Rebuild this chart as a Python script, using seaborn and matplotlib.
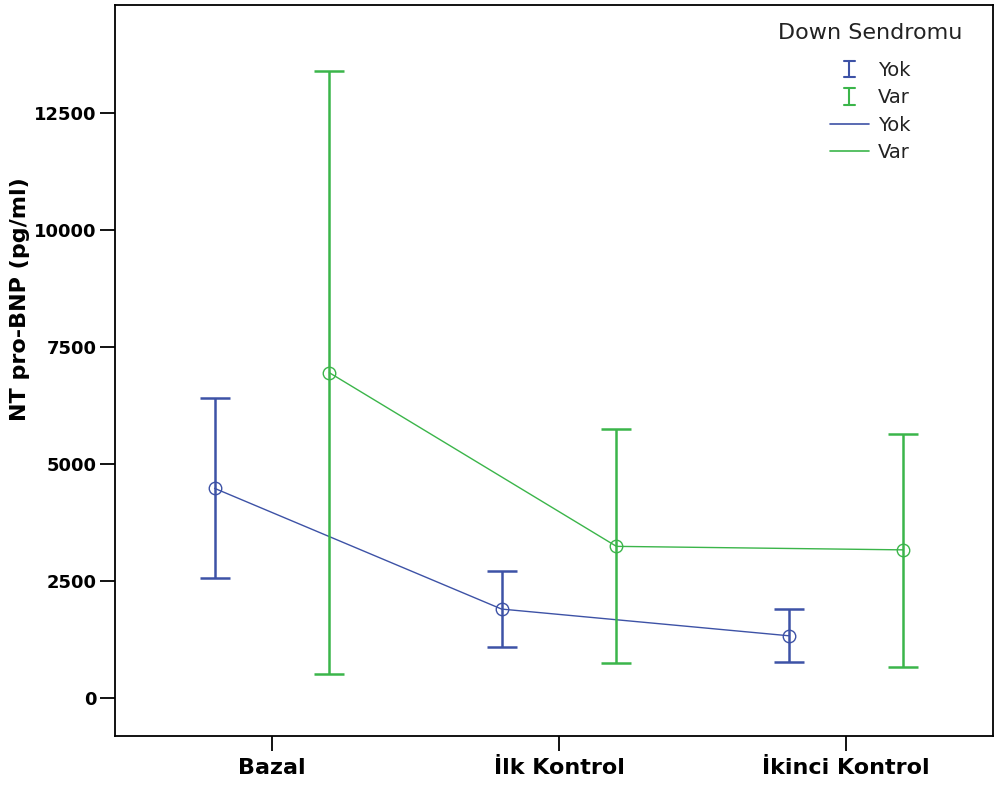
import numpy as np
import pandas as pd
import matplotlib
matplotlib.use("Agg")
import matplotlib.pyplot as plt
import seaborn as sns
from matplotlib.legend_handler import HandlerBase
from matplotlib.lines import Line2D

# Summary values: group mean with lower / upper error-bar limits (pg/ml)
categories = ["Bazal", "İlk Kontrol", "İkinci Kontrol"]
groups = ["Yok", "Var"]
yok_mean = [4480, 1900, 1330]
yok_low = [2560, 1090, 765]
yok_high = [6410, 2710, 1900]
var_mean = [6950, 3240, 3165]
var_low = [520, 745, 665]
var_high = [13400, 5745, 5640]
y_ticks = [0, 2500, 5000, 7500, 10000, 12500]

colors = {"Yok": "#3D52A6", "Var": "#3BB54A"}
dodge = {"Yok": -0.2, "Var": 0.2}

rows = []
for g, m, lo, hi in [("Yok", yok_mean, yok_low, yok_high),
                     ("Var", var_mean, var_low, var_high)]:
    for i, cat in enumerate(categories):
        rows.append({"group": g, "cat": cat, "x": i + dodge[g],
                     "mean": m[i], "low": lo[i], "high": hi[i]})
df = pd.DataFrame(rows)

sns.set_theme(style="ticks")
plt.rcParams["font.family"] = ["DejaVu Sans"]

fig = plt.figure(figsize=(9.98, 7.87), dpi=100)
ax = fig.add_axes([0.1152, 0.0648, 0.8798, 0.9289])

# Mean lines with open circle markers
sns.lineplot(data=df, x="x", y="mean", hue="group", hue_order=groups,
             palette=colors, marker="o", markersize=9, linewidth=1.0,
             sort=False, legend=False, ax=ax)
for line in ax.lines:
    c = line.get_color()
    line.set_markerfacecolor("none")
    line.set_markeredgecolor(c)
    line.set_markeredgewidth(1.0)

# Error bars
for g in groups:
    sub = df[df["group"] == g]
    ax.errorbar(sub["x"], sub["mean"],
                yerr=[sub["mean"] - sub["low"], sub["high"] - sub["mean"]],
                fmt="none", ecolor=colors[g], elinewidth=1.8,
                capsize=10.5, capthick=1.8, zorder=3)

ax.set_xlim(-0.547, 2.512)
ax.set_ylim(-812, 14808)
ax.set_xticks(range(len(categories)))
ax.set_xticklabels(categories, fontsize=16, fontweight="bold")
ax.set_yticks(y_ticks)
ax.set_yticklabels([str(t) for t in y_ticks], fontsize=13, fontweight="bold")
ax.tick_params(axis="both", direction="out", length=11, width=1.3,
               color="black", labelcolor="black")
ax.tick_params(axis="x", pad=5)
ax.tick_params(axis="y", pad=2)
ax.set_xlabel("")
ax.set_ylabel("")
for s in ax.spines.values():
    s.set_visible(True)
    s.set_color("black")
    s.set_linewidth(1.3)

fig.text(20 / 998, 1 - 299 / 787, "NT pro-BNP (pg/ml)", rotation=90,
         ha="center", va="center", fontsize=16, fontweight="bold",
         color="black")


class ErrorBarKey:
    def __init__(self, color):
        self.color = color


class ErrorBarKeyHandler(HandlerBase):
    def create_artists(self, legend, orig_handle, xdescent, ydescent,
                       width, height, fontsize, trans):
        cx = 0.5 * width - xdescent
        cy = 0.5 * height - ydescent
        hh, cw = 6.0, 4.0
        kw = dict(color=orig_handle.color, lw=1.5, transform=trans)
        return [Line2D([cx, cx], [cy - hh, cy + hh], **kw),
                Line2D([cx - cw, cx + cw], [cy + hh, cy + hh], **kw),
                Line2D([cx - cw, cx + cw], [cy - hh, cy - hh], **kw)]


handles = [ErrorBarKey(colors["Yok"]), ErrorBarKey(colors["Var"]),
           Line2D([], [], color=colors["Yok"], lw=1.2),
           Line2D([], [], color=colors["Var"], lw=1.2)]
leg = ax.legend(handles=handles, labels=["Yok", "Var", "Yok", "Var"],
                handler_map={ErrorBarKey: ErrorBarKeyHandler()},
                frameon=False, fontsize=14,
                handlelength=2.0, handletextpad=0.45, labelspacing=0.43,
                borderpad=0.2, loc="center",
                bbox_to_anchor=(870 / 998, 1 - 111.5 / 787),
                bbox_transform=fig.transFigure)
for t in leg.get_texts():
    t.set_color("#222222")

# Legend heading
fig.text(870 / 998, 1 - 39 / 787, "Down Sendromu", ha="center",
         va="baseline", fontsize=16, color="#222222")

fig.savefig("out.png", dpi=100)
